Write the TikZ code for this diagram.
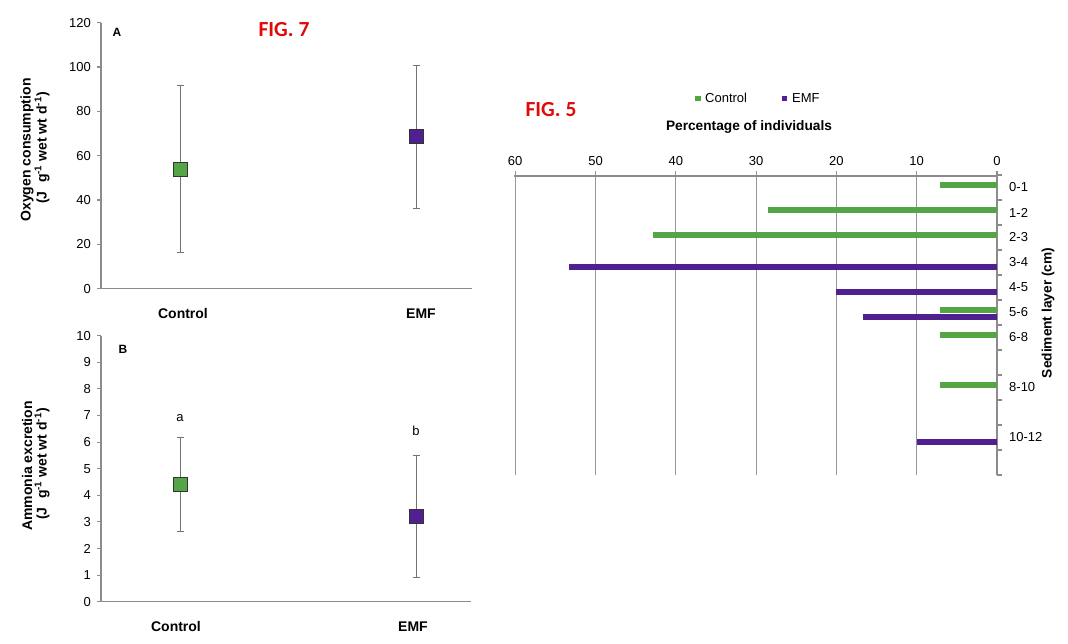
\documentclass[tikz,border=0pt]{standalone}
\usepackage{fontspec}
\setmainfont{Liberation Sans}
\newfontfamily\figfont{Carlito}
\definecolor{cgreen}{RGB}{84,165,69}
\definecolor{cpurple}{RGB}{80,32,145}
\definecolor{axisgrey}{RGB}{140,140,140}
\definecolor{figred}{RGB}{225,10,10}
\tikzset{
  tick/.style={font=\fontsize{13}{15}\selectfont, inner sep=1pt},
  bold/.style={font=\fontsize{14}{16}\selectfont\bfseries, inner sep=1pt},
  boldr/.style={font=\fontsize{13.7}{16}\selectfont\bfseries, inner sep=1pt},
  axisline/.style={draw=axisgrey, line width=1.1pt},
  gridline/.style={draw=axisgrey!90, line width=1.1pt},
  errbar/.style={draw=gray!90!black, line width=0.7pt},
  marker/.style={draw=black!80, line width=0.8pt, minimum size=14pt, inner sep=0pt},
  figlabel/.style={font=\figfont\fontsize{21.5}{23}\selectfont\bfseries, text=figred, inner sep=0pt}
}
\begin{document}
\begin{tikzpicture}[x=1pt,y=-1pt]
\useasboundingbox[fill=white] (0,0) rectangle (1068,643);

% ===== Panel A =====
\draw[axisline] (101,22.7) coordinate (Atop) -- (101,288.7) coordinate (Aorig) -- (471.7,288.7) coordinate (Aend);
\foreach \v in {0,20,...,120}{
  \draw[axisline] (97,{288.7-\v*2.2167}) -- (101,{288.7-\v*2.2167});
  \node[tick, anchor=east] at (92,{288.7-\v*2.2167}) {\v};
}
\node[font=\fontsize{12}{14}\selectfont\bfseries] (Alab) at (117,32) {A};
\node[figlabel] (fig7) at (284,30) {FIG. 7};
\node[bold, rotate=90] (Ay1) at (27,150) {Oxygen consumption};
\node[bold, rotate=90] (Ay2) at (42,148) {(J\,\, g\textsuperscript{-1} wet wt d\textsuperscript{-1})};
% Control
\coordinate (AcT) at (180,{288.7-91.6*2.2167});
\coordinate (AcB) at (180,{288.7-16.2*2.2167});
\draw[errbar] (AcT) -- (AcB);
\draw[errbar] ([xshift=-3.5pt]AcT) -- ([xshift=3.5pt]AcT);
\draw[errbar] ([xshift=-3.5pt]AcB) -- ([xshift=3.5pt]AcB);
\node[marker, fill=cgreen] (Acm) at (180,{288.7-54*2.2167}) {};
% EMF
\coordinate (AeT) at (416.7,{288.7-100.8*2.2167});
\coordinate (AeB) at (416.7,{288.7-36.4*2.2167});
\draw[errbar] (AeT) -- (AeB);
\draw[errbar] ([xshift=-3.5pt]AeT) -- ([xshift=3.5pt]AeT);
\draw[errbar] ([xshift=-3.5pt]AeB) -- ([xshift=3.5pt]AeB);
\node[marker, fill=cpurple] (Aem) at (416.7,{288.7-68.6*2.2167}) {};
\node[bold, anchor=base] (Actl) at (183,318) {Control};
\node[bold, anchor=base] (Aemf) at (421,318) {EMF};

% ===== Panel B =====
\draw[axisline] (101,335.7) coordinate (Btop) -- (101,601.7) coordinate (Borig) -- (471,601.7) coordinate (Bend);
\foreach \v in {0,1,...,10}{
  \draw[axisline] (97,{601.7-\v*26.6}) -- (101,{601.7-\v*26.6});
  \node[tick, anchor=east] at (92,{601.7-\v*26.6}) {\v};
}
\node[font=\fontsize{12}{14}\selectfont\bfseries] (Blab) at (123,349) {B};
\node[bold, rotate=90] (By1) at (27,466) {Ammonia excretion};
\node[bold, rotate=90] (By2) at (42,464) {(J\,\, g\textsuperscript{-1} wet wt d\textsuperscript{-1})};
% Control
\coordinate (BcT) at (180,{601.7-6.17*26.6});
\coordinate (BcB) at (180,{601.7-2.66*26.6});
\draw[errbar] (BcT) -- (BcB);
\draw[errbar] ([xshift=-3.5pt]BcT) -- ([xshift=3.5pt]BcT);
\draw[errbar] ([xshift=-3.5pt]BcB) -- ([xshift=3.5pt]BcB);
\node[marker, fill=cgreen] (Bcm) at (180,{601.7-4.41*26.6}) {};
\node[tick] (Ba) at (180,418) {a};
% EMF
\coordinate (BeT) at (416,{601.7-5.49*26.6});
\coordinate (BeB) at (416,{601.7-0.93*26.6});
\draw[errbar] (BeT) -- (BeB);
\draw[errbar] ([xshift=-3.5pt]BeT) -- ([xshift=3.5pt]BeT);
\draw[errbar] ([xshift=-3.5pt]BeB) -- ([xshift=3.5pt]BeB);
\node[marker, fill=cpurple] (Bem) at (416,{601.7-3.22*26.6}) {};
\node[tick] (Bb) at (416,431) {b};
\node[bold, anchor=base] (Bctl) at (176,631) {Control};
\node[bold, anchor=base] (Bemf) at (413,631) {EMF};

% ===== Fig 5 =====
\node[figlabel] (fig5) at (551,110) {FIG. 5};
\fill[cgreen] (695,95.5) rectangle (700.5,101);
\node[tick, anchor=west] (legc) at (704,98) {Control};
\fill[cpurple] (781.5,95.5) rectangle (787,101);
\node[tick, anchor=west] (lege) at (791,98) {EMF};
\node[boldr] (ptitle) at (749,127) {Percentage of individuals};

% gridlines and top axis
\foreach \v in {10,20,...,60}{
  \draw[gridline] ({997-\v*8.03},171) -- ({997-\v*8.03},475);
}
\foreach \v in {0,10,...,60}{
  \node[tick] at ({997-\v*8.03},161) {\v};
}
\draw[axisline] (514.2,176) -- (997,176);
\draw[axisline] (997,171) -- (997,475);
\foreach \k in {0,...,12}{
  \draw[axisline] (997,{175+25*\k}) -- (1002,{175+25*\k});
}
% category labels
\foreach \k/\t in {0/0-1,1/1-2,2/2-3,3/3-4,4/4-5,5/5-6,6/6-8,8/8-10,10/10-12}{
  \node[tick, anchor=west] at (1008,{175+25*\k+12.5}) {\t};
}
\node[boldr, rotate=90] (sed) at (1048,313) {Sediment layer (cm)};
% bars
\foreach \k/\v in {0/7.14,1/28.57,2/42.86,5/7.14,6/7.14,8/7.14}{
  \fill[cgreen] ({997-\v*8.03},{175+25*\k+6.7}) rectangle (997,{175+25*\k+13.3});
}
\foreach \k/\v in {3/53.33,4/20,5/16.67,10/10}{
  \fill[cpurple] ({997-\v*8.03},{175+25*\k+13.7}) rectangle (997,{175+25*\k+20.3});
}
\end{tikzpicture}
\end{document}
